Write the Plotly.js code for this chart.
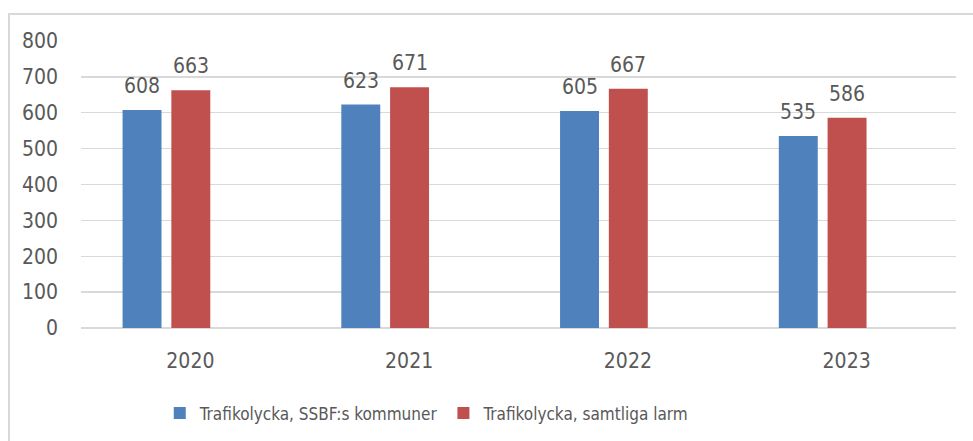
<!DOCTYPE html>
<html>
<head>
<meta charset="utf-8">
<script src="https://cdn.plot.ly/plotly-3.0.1.min.js"></script>
<style>
html,body{margin:0;padding:0;background:#fff;}
#wrap{position:relative;width:973px;height:441px;overflow:hidden;}
#chart{width:973px;height:441px;}
#frame{position:absolute;left:8px;top:13px;right:-5px;bottom:-5px;border-left:2px solid #d9d9d9;border-top:2px solid #d9d9d9;pointer-events:none;}
</style>
</head>
<body>
<div id="wrap"><div id="chart"></div><div id="frame"></div></div>
<script>
const years = ['2020', '2021', '2022', '2023'];
const ssbfKommuner = [608, 623, 605, 535];
const samtligaLarm = [663, 671, 667, 586];
const seriesNames = ['Trafikolycka, SSBF:s kommuner', 'Trafikolycka, samtliga larm'];
const yTicks = [0, 100, 200, 300, 400, 500, 600, 700, 800];

const FONT = '"DejaVu Sans Condensed", "Liberation Sans", sans-serif';
const GRAY = '#595959';
const BAR_W = 0.178;
const OFFSETS = [-0.31, -0.087];

function barTrace(name, vals, color, offset) {
  return {
    type: 'bar', name: name, x: years, y: vals,
    marker: {color: color},
    width: BAR_W, offset: offset,
    hoverinfo: 'x+y'
  };
}

const data = [
  barTrace(seriesNames[0], ssbfKommuner, '#4F81BD', OFFSETS[0]),
  barTrace(seriesNames[1], samtligaLarm, '#C0504D', OFFSETS[1])
];

const annotations = [];
[ssbfKommuner, samtligaLarm].forEach((vals, si) => {
  vals.forEach((v, i) => {
    annotations.push({
      x: i + OFFSETS[si] + BAR_W / 2, y: v, xref: 'x', yref: 'y', text: String(v), showarrow: false,
      xanchor: 'center', yanchor: 'bottom', yshift: 10,
      font: {family: FONT, size: 21, color: GRAY}
    });
  });
});

const layout = {
  width: 973, height: 441,
  margin: {l: 81, r: 17, t: 41, b: 113, autoexpand: false},
  paper_bgcolor: '#fff', plot_bgcolor: '#fff',
  font: {family: FONT, size: 21, color: GRAY},
  barmode: 'group',
  showlegend: true,
  annotations: annotations,
  xaxis: {
    type: 'category', range: [-0.5, years.length - 0.5], autorange: false,
    showgrid: false, zeroline: false, showline: false,
    ticks: '', tickfont: {family: FONT, size: 21, color: GRAY}, ticklabelstandoff: 18
  },
  yaxis: {
    range: [0, 800], autorange: false, tickvals: yTicks, ticktext: yTicks.map(String),
    showgrid: true, gridcolor: '#d9d9d9', gridwidth: 1.3,
    zeroline: true, zerolinecolor: '#d9d9d9', zerolinewidth: 1.3,
    showline: false, ticks: '', tickfont: {family: FONT, size: 21, color: GRAY}, ticklabelstandoff: 22
  },
  legend: {
    orientation: 'h', x: 0.09, xanchor: 'left', y: -0.235, yanchor: 'top',
    font: {family: FONT, size: 17, color: GRAY}, itemwidth: 30, tracegroupgap: 0
  }
};

Plotly.newPlot('chart', data, layout, {displayModeBar: false, staticPlot: true});
</script>
</body>
</html>
